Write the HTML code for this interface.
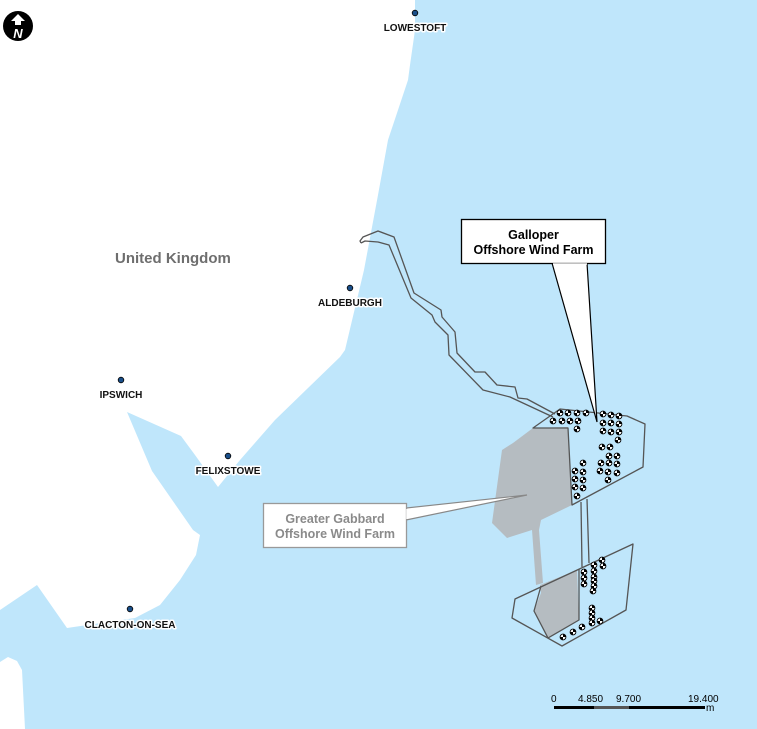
<!DOCTYPE html>
<html><head><meta charset="utf-8"><style>
html,body{margin:0;padding:0;background:#bfe6fb;}
svg{display:block;}
text{font-family:"Liberation Sans",sans-serif;font-weight:bold;}
.lbl{font-size:10px;fill:#111;stroke:#fff;stroke-width:3px;paint-order:stroke;stroke-linejoin:round;}
</style></head><body>
<svg width="757" height="729" viewBox="0 0 757 729" xmlns="http://www.w3.org/2000/svg">
<defs>
<g id="t"><circle r="2.9" fill="#fff" stroke="#000" stroke-width="0.9"/><path d="M0 0 L0 -2.9 A2.9 2.9 0 0 1 2.9 0 Z M0 0 L0 2.9 A2.9 2.9 0 0 1 -2.9 0 Z" fill="#000"/></g>
</defs>
<rect width="757" height="729" fill="#bfe6fb"/>
<path d="M0 0 L415 0 L415 30 L410 65 L408 80 L388 140 L378 195 L364 270 L345 350 L340 357 L275 420 L240 460 L218 487 L195 455 L181 436 L127 412 L152 471 L193 530 L200 535 L196 555 L180 580 L160 605 L135 618 L67 628 L37 585 L0 610 Z" fill="#fff"/>
<path d="M0 662 L8 657 L17 661 L22 670 L25 729 L0 729 Z" fill="#fff"/>
<path d="M533 428 L568 427 L572 505 L541 520 L539 530 L543 583 L536 585 L532 530 L507 538 L492 523 L502 450 L513 443 Z" fill="#b5bcc1"/>
<path d="M540 585 L577 570 L579 620 L548 638 L534 611 L541 593 Z" fill="#b5bcc1"/>
<g fill="none" stroke="#555" stroke-width="1.3" stroke-linejoin="round">
<polyline points="361,243 360,241 363,237 378,231 394,237 414,293 441,310 442,317 455,332 457,353 475,372 485,372 497,385 515,387 518,398 527,399 555,414"/>
<polyline points="361,243 365,241 378,242 389,245 411,298 432,315 435,322 448,335 449,355 483,390 510,397 553,417"/>
<polygon points="533,428 560,409 627,416 645,424 643,467 572,505 568,428"/>
<line x1="581" y1="502" x2="582" y2="567"/>
<line x1="587" y1="499" x2="589" y2="563"/>
<polygon points="515,599 633,544 626,610 562,646 512,618"/>
<polyline points="541,586 534,611 548,638"/>
<polyline points="579,569 579,620 548,638"/>
</g>
<g>
<use href="#t" x="553" y="421"/><use href="#t" x="560" y="413"/>
<use href="#t" x="568" y="413"/><use href="#t" x="577" y="413"/><use href="#t" x="586" y="413"/>
<use href="#t" x="562" y="421"/><use href="#t" x="570" y="421"/><use href="#t" x="578" y="421"/><use href="#t" x="577" y="429"/>
<use href="#t" x="603" y="414"/><use href="#t" x="611" y="415"/><use href="#t" x="619" y="416"/>
<use href="#t" x="603" y="423"/><use href="#t" x="611" y="423"/><use href="#t" x="619" y="424"/>
<use href="#t" x="603" y="431"/><use href="#t" x="611" y="432"/><use href="#t" x="619" y="432"/>
<use href="#t" x="618" y="440"/><use href="#t" x="602" y="447"/><use href="#t" x="610" y="447"/>
<use href="#t" x="609" y="456"/><use href="#t" x="617" y="456"/>
<use href="#t" x="601" y="463"/><use href="#t" x="609" y="463"/><use href="#t" x="617" y="464"/>
<use href="#t" x="600" y="471"/><use href="#t" x="608" y="472"/><use href="#t" x="617" y="473"/><use href="#t" x="608" y="480"/>
<use href="#t" x="583" y="463"/><use href="#t" x="575" y="471"/><use href="#t" x="583" y="472"/>
<use href="#t" x="575" y="479"/><use href="#t" x="583" y="480"/><use href="#t" x="575" y="487"/><use href="#t" x="583" y="488"/><use href="#t" x="577" y="496"/>
<use href="#t" x="602" y="560"/><use href="#t" x="603" y="566"/><use href="#t" x="594" y="565"/><use href="#t" x="594" y="571"/>
<use href="#t" x="584" y="572"/><use href="#t" x="594" y="577"/><use href="#t" x="584" y="578"/><use href="#t" x="594" y="581"/>
<use href="#t" x="584" y="584"/><use href="#t" x="594" y="586"/><use href="#t" x="593" y="591"/>
<use href="#t" x="592" y="608"/><use href="#t" x="592" y="613"/><use href="#t" x="592" y="618"/><use href="#t" x="592" y="623"/>
<use href="#t" x="600" y="621"/><use href="#t" x="582" y="627"/><use href="#t" x="573" y="632"/><use href="#t" x="563" y="637"/>
</g>
<polygon points="552,263 587,263 597,422" fill="#fff" stroke="#000" stroke-width="1.2"/>
<rect x="461.5" y="219.5" width="144" height="44" fill="#fff" stroke="#000" stroke-width="1.3"/>
<line x1="553" y1="264" x2="587" y2="264" stroke="#fff" stroke-width="1.5"/>
<text x="533.5" y="239" font-size="12.5" text-anchor="middle" fill="#000">Galloper</text>
<text x="533.5" y="254" font-size="12.5" text-anchor="middle" fill="#000">Offshore Wind Farm</text>
<polygon points="406,508 406,520 527,495" fill="#fff" stroke="#888" stroke-width="1.2"/>
<rect x="263.5" y="503.5" width="143" height="44" fill="#fff" stroke="#999" stroke-width="1.3"/>
<line x1="407" y1="509" x2="407" y2="519" stroke="#fff" stroke-width="1.5"/>
<text x="335" y="523" font-size="12.5" text-anchor="middle" fill="#8a8a8a">Greater Gabbard</text>
<text x="335" y="538" font-size="12.5" text-anchor="middle" fill="#8a8a8a">Offshore Wind Farm</text>
<g fill="#1a4f8a" stroke="#000" stroke-width="0.8">
<circle cx="415" cy="13" r="2.8"/><circle cx="350" cy="288" r="2.8"/><circle cx="121" cy="380" r="2.8"/>
<circle cx="228" cy="456" r="2.8"/><circle cx="130" cy="609" r="2.8"/>
</g>
<text class="lbl" x="415" y="31" text-anchor="middle">LOWESTOFT</text>
<text class="lbl" x="350" y="306" text-anchor="middle">ALDEBURGH</text>
<text class="lbl" x="121" y="398" text-anchor="middle">IPSWICH</text>
<text class="lbl" x="228" y="474" text-anchor="middle">FELIXSTOWE</text>
<text class="lbl" x="130" y="628" text-anchor="middle">CLACTON-ON-SEA</text>
<text x="115" y="263" font-size="15" fill="#6e6e6e">United Kingdom</text>
<circle cx="18" cy="26" r="15" fill="#000"/>
<polygon points="18,14 25,21 21,21 21,25 15,25 15,21 11,21" fill="#fff"/>
<text x="18" y="38" font-size="13" font-style="italic" text-anchor="middle" fill="#fff">N</text>
<rect x="554" y="706" width="40" height="3" fill="#000"/>
<rect x="594" y="706" width="35" height="3" fill="#555"/>
<rect x="629" y="706" width="76" height="3" fill="#000"/>
<g font-size="10" fill="#000">
<text x="551" y="702" style="font-weight:normal">0</text>
<text x="578" y="702" style="font-weight:normal">4.850</text>
<text x="616" y="702" style="font-weight:normal">9.700</text>
<text x="688" y="702" style="font-weight:normal">19.400</text>
<text x="706" y="711" style="font-weight:normal">m</text>
</g>
</svg>
</body></html>
